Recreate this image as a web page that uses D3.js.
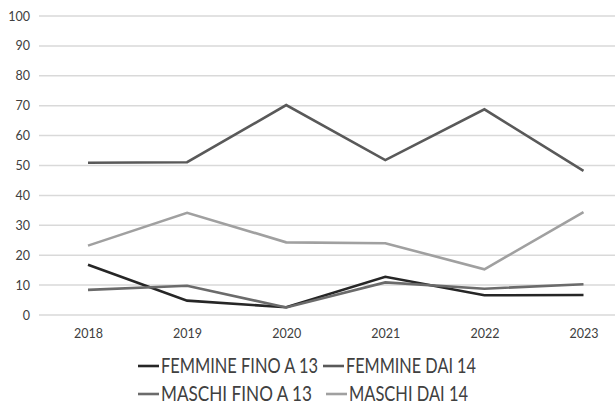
<!DOCTYPE html>
<html>
<head>
<meta charset="utf-8">
<script src="https://cdn.jsdelivr.net/npm/d3@7"></script>
<style>
  html, body { margin: 0; padding: 0; background: #fff; }
  svg { display: block; }
  text { font-family: "Lato", "Open Sans", sans-serif; fill: #404040; }
</style>
</head>
<body>
<svg id="chart" width="615" height="408"></svg>
<script>
// Years on the horizontal axis
const years = ["2018", "2019", "2020", "2021", "2022", "2023"];

// Series values (percent)
const femmineFino13 = [16.8, 4.8, 2.6, 12.8, 6.6, 6.7];
const femmineDai14  = [50.9, 51.1, 70.2, 51.8, 68.8, 48.2];
const maschiFino13  = [8.4, 9.8, 2.5, 10.9, 8.8, 10.3];
const maschiDai14   = [23.2, 34.2, 24.3, 24.0, 15.3, 34.4];

const seriesNames = ["FEMMINE FINO A 13", "FEMMINE DAI 14", "MASCHI FINO A 13", "MASCHI DAI 14"];
const yTicks = [0, 10, 20, 30, 40, 50, 60, 70, 80, 90, 100];

const series = [
  { name: seriesNames[0], values: femmineFino13, color: "#262626" },
  { name: seriesNames[1], values: femmineDai14,  color: "#595959" },
  { name: seriesNames[2], values: maschiFino13,  color: "#6b6b6b" },
  { name: seriesNames[3], values: maschiDai14,   color: "#a0a0a0" }
];

const svg = d3.select("#chart");

const x = d3.scalePoint().domain(years).range([88, 583.5]);
const y = d3.scaleLinear().domain([0, 100]).range([315, 16]);

// Horizontal gridlines
svg.append("g")
  .selectAll("line")
  .data(yTicks)
  .join("line")
  .attr("x1", 39).attr("x2", 615)
  .attr("y1", d => y(d)).attr("y2", d => y(d))
  .attr("stroke", "#d9d9d9")
  .attr("stroke-width", 1.5);

// Y axis labels
const yAxis = d3.axisLeft(y).tickValues(yTicks).tickSize(0).tickPadding(0);
svg.append("g")
  .attr("transform", "translate(30,0)")
  .call(yAxis)
  .call(g => g.select(".domain").remove())
  .call(g => g.selectAll("text")
    .attr("font-size", 12.5)
    .style("font-family", "Lato, sans-serif")
    .attr("fill", "#404040"));

// X axis labels
const xAxis = d3.axisBottom(x).tickSize(0).tickPadding(0);
svg.append("g")
  .attr("transform", "translate(0,329.5)")
  .call(xAxis)
  .call(g => g.select(".domain").remove())
  .call(g => g.selectAll("text")
    .attr("font-size", 12.5)
    .style("font-family", "Lato, sans-serif")
    .attr("fill", "#404040"));

// Lines
const line = d3.line()
  .x((d, i) => x(years[i]))
  .y(d => y(d));

svg.append("g")
  .selectAll("path")
  .data(series)
  .join("path")
  .attr("d", d => line(d.values))
  .attr("fill", "none")
  .attr("stroke", d => d.color)
  .attr("stroke-width", 2.6)
  .attr("stroke-linejoin", "miter");

// Legend: two rows of two entries
const legendPos = [
  { lx: 138, ty: 366, w: 157 },
  { lx: 323, ty: 366, w: 130 },
  { lx: 138, ty: 394, w: 151 },
  { lx: 326, ty: 394, w: 119 }
];
const legend = svg.append("g")
  .selectAll("g")
  .data(series)
  .join("g")
  .attr("transform", (d, i) => `translate(${legendPos[i].lx},${legendPos[i].ty})`);

legend.append("line")
  .attr("x1", 0).attr("x2", 21)
  .attr("y1", 0).attr("y2", 0)
  .attr("stroke", d => d.color)
  .attr("stroke-width", 2.6);

legend.append("text")
  .attr("x", 23)
  .attr("y", 0)
  .attr("dy", "0.36em")
  .attr("font-size", 20.5)
  .attr("textLength", (d, i) => legendPos[i].w)
  .attr("lengthAdjust", "spacingAndGlyphs")
  .attr("fill", "#404040")
  .text(d => d.name);
</script>
</body>
</html>
